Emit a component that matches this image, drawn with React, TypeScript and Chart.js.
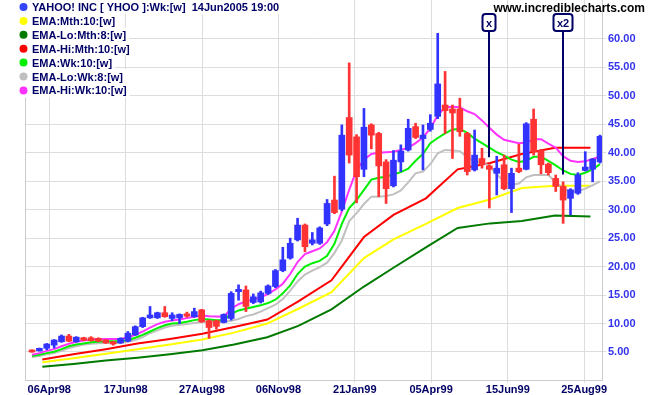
import React, { useEffect, useRef } from 'react';
import { Chart, registerables } from 'chart.js';

Chart.register(...registerables);

// ---- Weekly price data (YHOO), bar index 0..77 ----
const openP = [
  5.35, 5.2, 5.65, 6.2, 6.8, 7.8, 6.8, 7.5, 7.5, 7.4,
  7.1, 6.8, 6.6, 6.9, 8.0, 9.45, 11.0, 11.0, 11.9, 10.9,
  11.0, 11.7, 11.2, 12.4, 10.5, 10.5, 10.2, 10.9, 15.6, 15.9,
  13.7, 13.8, 15.3, 16.5, 19.3, 21.5, 24.7, 27.3, 24.1, 24.1,
  27.5, 31.7, 30.1, 46.2, 42.8, 37.1, 44.9, 43.4, 38.4, 34.2,
  38.4, 40.5, 44.6, 42.5, 44.1, 46.4, 48.4, 47.7, 47.7, 43.4,
  37.0, 39.0, 37.7, 36.4, 37.9, 33.7, 37.3, 37.1, 45.9, 40.4,
  38.0, 35.5, 34.1, 32.0, 32.9, 36.9, 37.1, 38.4,
];
const highP = [
  5.4, 5.7, 6.5, 7.2, 8.0, 8.1, 7.7, 7.6, 7.7, 7.5,
  7.2, 6.9, 7.5, 8.6, 9.6, 11.1, 13.0, 12.0, 13.0, 11.9,
  11.7, 12.0, 12.7, 12.5, 10.6, 10.6, 11.7, 15.6, 16.8, 16.6,
  15.2, 15.7, 16.8, 19.5, 23.4, 25.0, 28.5, 27.5, 26.0, 27.0,
  31.8, 35.9, 44.9, 55.8, 43.2, 47.8, 45.1, 43.6, 38.8, 40.4,
  41.4, 45.9, 45.2, 44.9, 46.7, 61.0, 54.3, 48.4, 49.6, 43.6,
  44.0, 40.8, 37.9, 39.4, 39.6, 37.3, 41.5, 45.3, 47.7, 40.6,
  38.2, 36.1, 34.9, 33.7, 36.5, 40.2, 39.0, 43.1,
];
const lowP = [
  4.95, 5.15, 5.4, 5.7, 6.7, 6.8, 6.7, 7.0, 6.9, 6.8,
  6.5, 6.2, 6.5, 6.8, 7.9, 9.3, 10.9, 10.9, 11.1, 10.5,
  10.0, 11.1, 11.1, 10.2, 7.4, 9.0, 10.1, 10.6, 14.1, 12.1,
  13.5, 13.6, 15.1, 16.3, 19.1, 21.3, 24.5, 22.6, 23.8, 23.9,
  27.2, 29.3, 29.8, 38.2, 31.2, 35.8, 40.7, 32.3, 31.1, 34.0,
  36.7, 40.3, 42.5, 37.0, 43.8, 46.0, 43.4, 39.0, 42.9, 36.1,
  36.8, 37.3, 30.3, 32.6, 33.5, 29.5, 36.5, 37.0, 39.6, 36.3,
  36.1, 33.2, 27.6, 29.1, 32.7, 36.8, 34.9, 38.2,
];
const closeP = [
  5.0, 5.65, 6.4, 7.1, 7.8, 6.9, 7.6, 7.1, 7.0, 6.9,
  6.6, 6.4, 7.4, 8.3, 9.45, 11.0, 11.5, 11.9, 11.2, 11.5,
  11.6, 11.3, 12.1, 10.3, 9.3, 9.5, 11.6, 15.3, 16.0, 13.0,
  14.7, 15.4, 16.6, 19.3, 21.2, 24.1, 27.3, 23.5, 24.7, 26.8,
  31.1, 29.5, 43.1, 39.6, 35.8, 44.5, 43.1, 37.7, 33.7, 38.7,
  40.3, 44.3, 42.7, 43.1, 45.2, 52.1, 47.4, 47.0, 43.7, 36.7,
  39.6, 37.9, 37.1, 37.3, 33.7, 36.4, 36.7, 45.1, 40.2, 37.9,
  36.5, 34.1, 31.7, 33.5, 36.1, 37.5, 38.9, 42.9,
];

// ---- Weekly EMAs (one value per bar) ----
const emaWk10 = [
  4.3, 4.5, 4.8, 5.05, 5.5, 6.0, 6.3, 6.5, 6.7, 6.8,
  6.9, 6.9, 6.9, 7.1, 7.5, 8.0, 8.6, 9.2, 9.7, 10.0,
  10.1, 10.3, 10.6, 10.8, 10.7, 10.6, 10.6, 11.7, 12.3, 12.6,
  12.9, 13.2, 13.6, 14.2, 15.3, 16.7, 18.7, 20.0, 20.6, 21.0,
  21.9, 24.0, 27.5, 30.3, 31.7, 33.5, 35.3, 35.6, 35.8, 36.2,
  36.6, 37.2, 38.6, 39.8, 41.7, 42.6, 43.4, 44.1, 44.2, 43.5,
  42.5, 41.7, 40.9, 40.1, 39.5, 38.8, 38.4, 38.6, 39.3, 39.3,
  38.6, 37.8, 36.9, 36.3, 36.1, 36.5, 37.1, 38.0,
];
const emaLoWk8 = [
  4.1, 4.3, 4.6, 4.8, 5.2, 5.7, 6.0, 6.3, 6.45, 6.55,
  6.6, 6.6, 6.6, 6.8, 7.1, 7.6, 8.3, 8.8, 9.3, 9.6,
  9.8, 9.9, 10.1, 10.3, 10.3, 10.3, 10.3, 10.5, 10.8, 11.3,
  11.6, 12.1, 12.7, 13.3, 14.3, 15.8, 17.4, 18.6, 19.3, 19.9,
  20.7, 22.4, 24.6, 28.0, 29.4, 31.0, 32.3, 32.3, 32.4, 32.7,
  33.4, 34.8, 36.4, 36.7, 38.0, 39.9, 40.5, 40.4, 40.3, 39.2,
  38.5, 38.3, 37.7, 36.2, 35.0, 34.4, 34.6, 35.7, 36.1, 36.1,
  36.1, 34.8, 33.8, 33.2, 33.2, 33.7, 34.3, 35.0,
];
const emaHiWk10 = [
  4.5, 4.8, 5.2, 5.5, 6.0, 6.45, 6.8, 7.0, 7.15, 7.25,
  7.3, 7.3, 7.3, 7.6, 8.0, 8.6, 9.3, 9.9, 10.3, 10.55,
  10.7, 10.95, 11.2, 11.4, 11.3, 11.25, 11.2, 12.6, 13.4, 13.9,
  14.2, 14.6, 15.2, 16.0, 17.0, 18.7, 20.8, 22.2, 22.7, 23.2,
  24.3, 26.3, 29.7, 33.5, 37.0, 38.8, 39.8, 40.0, 40.1, 40.2,
  40.5, 40.9, 41.7, 42.7, 44.3, 46.6, 48.0, 48.1, 48.0, 47.3,
  46.8, 45.7, 44.4, 43.2, 42.3, 42.0, 41.7, 41.8, 42.4, 42.4,
  41.6, 40.9, 39.4, 38.6, 38.4, 38.5, 38.9, 39.3,
];

// ---- Monthly EMAs (one value per month, at the week where each month falls) ----
const monthWeeks = [1.4, 5.6, 10.0, 14.3, 18.7, 23.1, 27.4, 31.9, 36.1, 40.6, 45.0, 49.0, 53.4, 57.7, 62.1, 66.4, 70.9, 75.7];
const emaMth10 = [3.2, 3.9, 4.7, 5.5, 6.3, 7.2, 8.4, 10.0, 12.6, 15.5, 21.5, 24.8, 27.5, 30.3, 31.8, 33.8, 34.2, 34.2];
const emaLoMth8 = [2.4, 2.9, 3.5, 4.0, 4.6, 5.3, 6.3, 7.6, 9.6, 12.5, 16.5, 19.8, 23.4, 26.8, 27.6, 28.0, 29.0, 28.8];
const emaHiMth10 = [3.7, 4.6, 5.5, 6.5, 7.3, 8.2, 9.4, 10.7, 13.9, 17.6, 25.2, 29.1, 32.0, 37.1, 38.2, 39.8, 40.9, 40.9];

// ---- Axis ticks ----
const tickWeeks = [2.34, 12.7, 23.05, 33.4, 43.76, 54.1, 64.5, 74.85];
const tickLabels = ['06Apr98', '17Jun98', '27Aug98', '06Nov98', '21Jan99', '05Apr99', '15Jun99', '25Aug99'];
const yTicks = [5, 10, 15, 20, 25, 30, 35, 40, 45, 50, 55, 60];

// ---- Event markers ----
const markerWeeks = [62, 72];
const markerLabels = ['x', 'x2'];

// ---- Legend ----
const legendLabels = [
  'YAHOO! INC [ YHOO ]:Wk:[w]  14Jun2005 19:00',
  'EMA:Mth:10:[w]',
  'EMA-Lo:Mth:8:[w]',
  'EMA-Hi:Mth:10:[w]',
  'EMA:Wk:10:[w]',
  'EMA-Lo:Wk:8:[w]',
  'EMA-Hi:Wk:10:[w]',
];
const siteText = 'www.incrediblecharts.com';

// ---- Styles ----
const C = {
  up: '#3333ff',
  down: '#ff3333',
  yellow: '#ffff00',
  darkGreen: '#007a00',
  red: '#ff0000',
  green: '#00ee00',
  gray: '#c0c0c0',
  magenta: '#ff33ff',
  navy: '#000066',
  axisBlue: '#3333ee',
  grid: '#dddddd',
};
const legendColors = ['#3344ff', C.yellow, C.darkGreen, C.red, C.green, C.gray, C.magenta];
const FONT = '"Liberation Sans", Arial, sans-serif';

export default function App() {
  const ref = useRef<HTMLCanvasElement | null>(null);

  useEffect(() => {
    document.body.style.margin = '0';
    const canvas = ref.current;
    if (!canvas) return;

    const idx = openP.map((_, i) => i);
    const candleColors = idx.map((i) => (closeP[i] >= openP[i] ? C.up : C.down));
    const weekly = (arr: number[]) => arr.map((v, i) => ({ x: i, y: v }));
    const monthly = (arr: number[]) => arr.map((v, k) => ({ x: monthWeeks[k], y: v }));

    const lineDs = (data: any[], color: string, order: number) => ({
      type: 'line' as const,
      data,
      borderColor: color,
      backgroundColor: color,
      borderWidth: 2,
      pointRadius: 0,
      tension: 0,
      fill: false,
      order,
    });

    const overlay = {
      id: 'overlay',
      beforeDatasetsDraw(chart: any) {
        const { ctx, chartArea } = chart;
        ctx.save();
        ctx.strokeStyle = '#cccccc';
        ctx.lineWidth = 1;
        ctx.beginPath();
        ctx.moveTo(chartArea.left + 0.5, chartArea.top);
        ctx.lineTo(chartArea.left + 0.5, chartArea.bottom);
        ctx.stroke();
        ctx.restore();
      },
      afterDraw(chart: any) {
        const { ctx, scales } = chart;
        const xs = scales.x;
        const ys = scales.y;
        ctx.save();
        // markers
        ctx.font = `bold 11px ${FONT}`;
        markerWeeks.forEach((w, k) => {
          const px = Math.round(xs.getPixelForValue(w));
          const bottom = ys.getPixelForValue(highP[w] + 1.3);
          const boxTop = 14;
          const boxH = 17;
          const tw = ctx.measureText(markerLabels[k]).width;
          const bw = Math.round(tw + 7);
          ctx.strokeStyle = C.navy;
          ctx.lineWidth = 2;
          ctx.beginPath();
          ctx.moveTo(px, boxTop + boxH);
          ctx.lineTo(px, bottom);
          ctx.stroke();
          const bx = px - bw / 2;
          ctx.beginPath();
          if ((ctx as any).roundRect) (ctx as any).roundRect(bx, boxTop, bw, boxH, 3);
          else ctx.rect(bx, boxTop, bw, boxH);
          ctx.fillStyle = '#ffffff';
          ctx.fill();
          ctx.stroke();
          ctx.fillStyle = C.navy;
          ctx.textAlign = 'center';
          ctx.textBaseline = 'middle';
          ctx.fillText(markerLabels[k], px, boxTop + boxH / 2 + 1);
        });
        // legend (white backing behind each row)
        ctx.textAlign = 'left';
        ctx.textBaseline = 'middle';
        ctx.font = `bold 11px ${FONT}`;
        legendLabels.forEach((label, k) => {
          const cy = 7 + k * 13.9;
          const tx = 32;
          const tw = ctx.measureText(label).width;
          ctx.fillStyle = '#ffffff';
          ctx.fillRect(17, cy - 7, tx + tw + 3 - 17, 14);
          ctx.fillStyle = legendColors[k];
          ctx.beginPath();
          ctx.arc(23.5, cy, 4, 0, Math.PI * 2);
          ctx.fill();
          ctx.fillStyle = C.navy;
          ctx.fillText(label, tx, cy + 1);
        });
        // site text
        ctx.font = `bold 12px ${FONT}`;
        ctx.fillStyle = '#000000';
        ctx.textAlign = 'right';
        ctx.fillText(siteText, 645, 9);
        ctx.restore();
      },
    };

    const chart = new Chart(canvas, {
      type: 'bar',
      data: {
        datasets: [
          {
            type: 'bar',
            data: idx.map((i) => ({ x: i, y: [openP[i], closeP[i]] })),
            backgroundColor: candleColors,
            borderWidth: 0,
            barThickness: 6,
            minBarLength: 2,
            grouped: false,
            order: 0,
          } as any,
          {
            type: 'bar',
            data: idx.map((i) => ({ x: i, y: [lowP[i], highP[i]] })),
            backgroundColor: candleColors,
            borderWidth: 0,
            barThickness: 2,
            grouped: false,
            order: 1,
          } as any,
          lineDs(weekly(emaHiWk10), C.magenta, 2),
          lineDs(weekly(emaWk10), C.green, 3),
          lineDs(weekly(emaLoWk8), C.gray, 4),
          lineDs(monthly(emaHiMth10), C.red, 5),
          lineDs(monthly(emaMth10), C.yellow, 6),
          lineDs(monthly(emaLoMth8), C.darkGreen, 7),
        ],
      },
      options: {
        responsive: false,
        animation: false,
        events: [],
        layout: { padding: { left: 25, right: 0, top: 0, bottom: 0 } },
        plugins: { legend: { display: false }, tooltip: { enabled: false } },
        scales: {
          x: {
            type: 'linear',
            offset: false,
            min: -0.95,
            max: 77.27,
            afterBuildTicks: (s: any) => {
              s.ticks = tickWeeks.map((v) => ({ value: v }));
            },
            afterFit: (s: any) => {
              s.height = 15;
              s.paddingLeft = 0;
              s.paddingRight = 0;
            },
            grid: { color: C.grid, tickLength: 3, offset: false },
            border: { display: true, color: '#cccccc' },
            ticks: {
              autoSkip: false,
              maxRotation: 0,
              padding: 0,
              color: C.navy,
              font: { family: FONT, size: 11, weight: 'bold' },
              callback: (_v: any, i: number) => tickLabels[i],
            },
          },
          y: {
            type: 'linear',
            position: 'right',
            min: 0.08,
            max: 66.85,
            afterBuildTicks: (s: any) => {
              s.ticks = yTicks.map((v) => ({ value: v }));
            },
            afterFit: (s: any) => {
              s.width = 49;
              s.paddingTop = 0;
              s.paddingBottom = 0;
            },
            grid: { color: C.grid, tickLength: 4 },
            border: { display: true, color: '#cccccc' },
            ticks: {
              padding: 2,
              color: C.axisBlue,
              font: { family: FONT, size: 11, weight: 'bold' },
              callback: (v: any) => Number(v).toFixed(2),
            },
          },
        },
      } as any,
      plugins: [overlay],
    });

    return () => chart.destroy();
  }, []);

  return <canvas ref={ref} width={651} height={395} style={{ display: 'block', width: 651, height: 395 }} />;
}
